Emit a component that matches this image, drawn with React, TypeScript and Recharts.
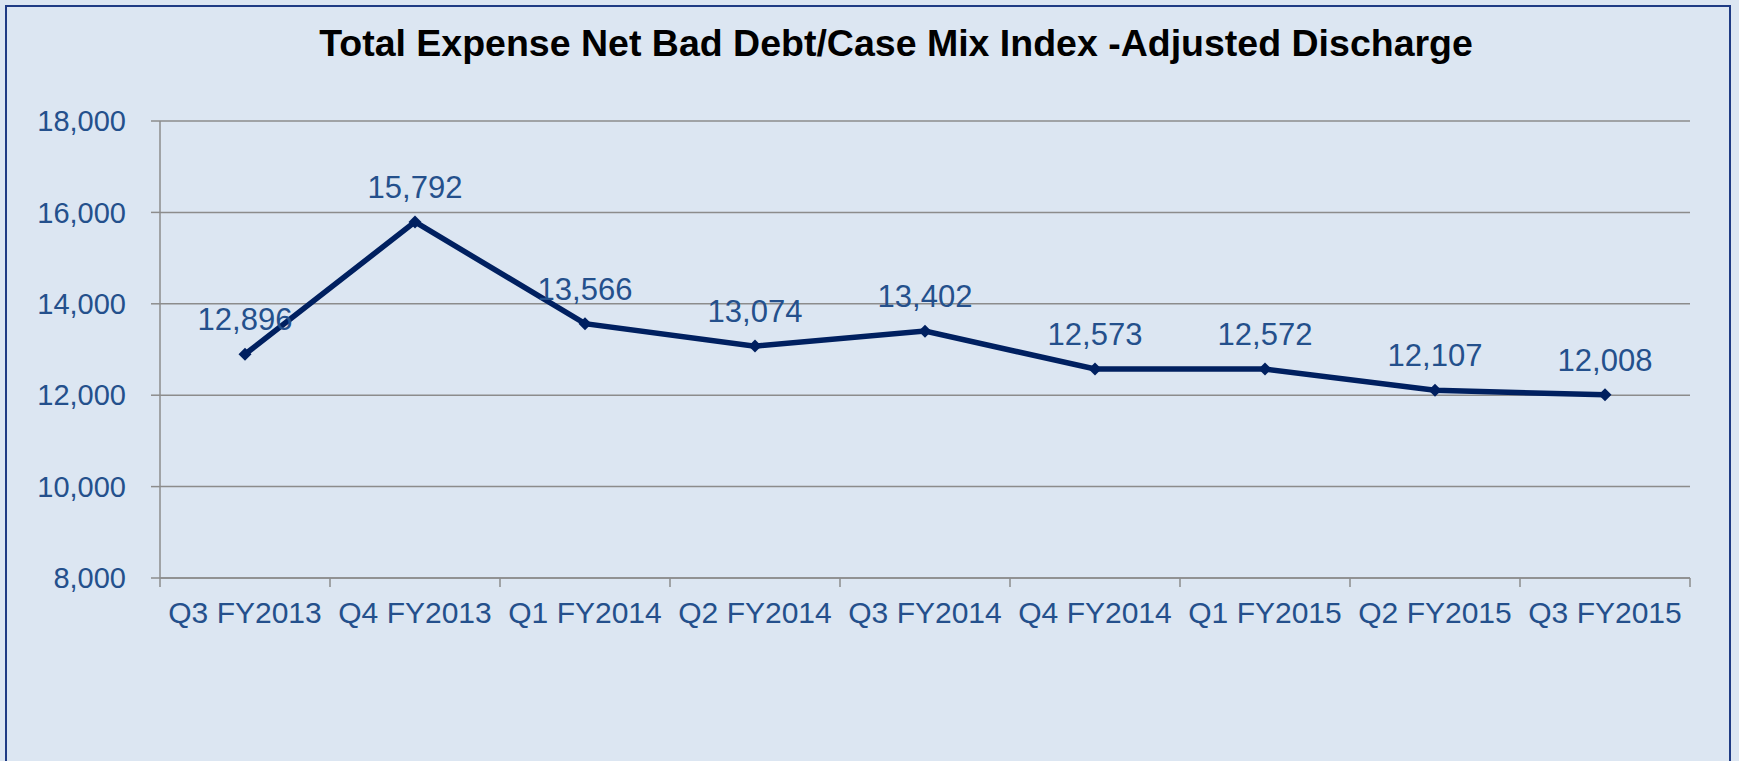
import React from 'react';
import {
  LineChart,
  Line,
  XAxis,
  YAxis,
  CartesianGrid,
  LabelList,
} from 'recharts';

const categories = [
  'Q3 FY2013',
  'Q4 FY2013',
  'Q1 FY2014',
  'Q2 FY2014',
  'Q3 FY2014',
  'Q4 FY2014',
  'Q1 FY2015',
  'Q2 FY2015',
  'Q3 FY2015',
];
const expense = [12896, 15792, 13566, 13074, 13402, 12573, 12572, 12107, 12008];
const yTicks = [8000, 10000, 12000, 14000, 16000, 18000];

const FONT = "Arial, 'Liberation Sans', sans-serif";
const TEXT_BLUE = '#24508c';
const GRID = '#8c8c8c';

// x is numeric so that tick marks can sit on category boundaries
const chartData = expense.map((value, i) => ({ x: i, value }));
const xTicks: number[] = [];
for (let i = -1; i < categories.length; i++) {
  xTicks.push(i + 0.5);
  if (i + 1 < categories.length) xTicks.push(i + 1);
}

const fmt = (v: number) => v.toLocaleString('en-US');

const XTick = (props: any) => {
  const { x, y, payload } = props;
  const v = payload.value as number;
  if (!Number.isInteger(v)) {
    return <line x1={x} y1={y} x2={x} y2={y + 9} stroke={GRID} strokeWidth={1.5} />;
  }
  return (
    <text x={x} y={y + 45} textAnchor="middle" fill={TEXT_BLUE} fontSize={30} fontFamily={FONT}>
      {categories[v]}
    </text>
  );
};

const Diamond = (props: any) => {
  const { cx, cy } = props;
  if (cx == null || cy == null) return null;
  const r = 6.5;
  return (
    <polygon
      points={`${cx},${cy - r} ${cx + r},${cy} ${cx},${cy + r} ${cx - r},${cy}`}
      fill="#002060"
    />
  );
};

export default function App() {
  return (
    <div
      style={{
        position: 'absolute',
        left: 0,
        top: 0,
        width: 1739,
        height: 761,
        overflow: 'hidden',
        background: '#dce6f2',
        fontFamily: FONT,
      }}
    >
      <div
        style={{
          position: 'absolute',
          left: 5,
          top: 5,
          width: 1726,
          height: 820,
          border: '2.5px solid #1f3b84',
          boxSizing: 'border-box',
        }}
      />
      <div
        style={{
          position: 'absolute',
          left: 0,
          width: 1792,
          top: 22,
          textAlign: 'center',
          fontSize: 37.5,
          fontWeight: 'bold',
          color: '#000',
        }}
      >
        Total Expense Net Bad Debt/Case Mix Index -Adjusted Discharge
      </div>
      <div style={{ position: 'absolute', left: 0, top: 0 }}>
        <LineChart
          width={1739}
          height={761}
          data={chartData}
          margin={{ top: 121, right: 49, bottom: 123, left: 0 }}
        >
          <CartesianGrid vertical={false} stroke={GRID} strokeWidth={1.5} />
          <XAxis
            dataKey="x"
            type="number"
            domain={[-0.5, categories.length - 0.5]}
            ticks={xTicks}
            interval={0}
            tickSize={0}
            tickMargin={0}
            tickLine={false}
            tick={<XTick />}
            height={60}
            axisLine={{ stroke: GRID, strokeWidth: 1.5 }}
          />
          <YAxis
            domain={[8000, 18000]}
            ticks={yTicks}
            interval={0}
            width={160}
            tickSize={9}
            tickMargin={25}
            tickFormatter={fmt}
            tick={{ fill: TEXT_BLUE, fontSize: 29, fontFamily: FONT }}
            tickLine={{ stroke: GRID, strokeWidth: 1.5 }}
            axisLine={{ stroke: GRID, strokeWidth: 1.5 }}
          />
          <Line
            type="linear"
            dataKey="value"
            stroke="#002060"
            strokeWidth={5.5}
            dot={<Diamond />}
            activeDot={false}
            isAnimationActive={false}
          >
            <LabelList
              dataKey="value"
              position="top"
              offset={24}
              formatter={(v: any) => fmt(Number(v))}
              fill={TEXT_BLUE}
              fontSize={31}
              fontFamily={FONT}
            />
          </Line>
        </LineChart>
      </div>
    </div>
  );
}
